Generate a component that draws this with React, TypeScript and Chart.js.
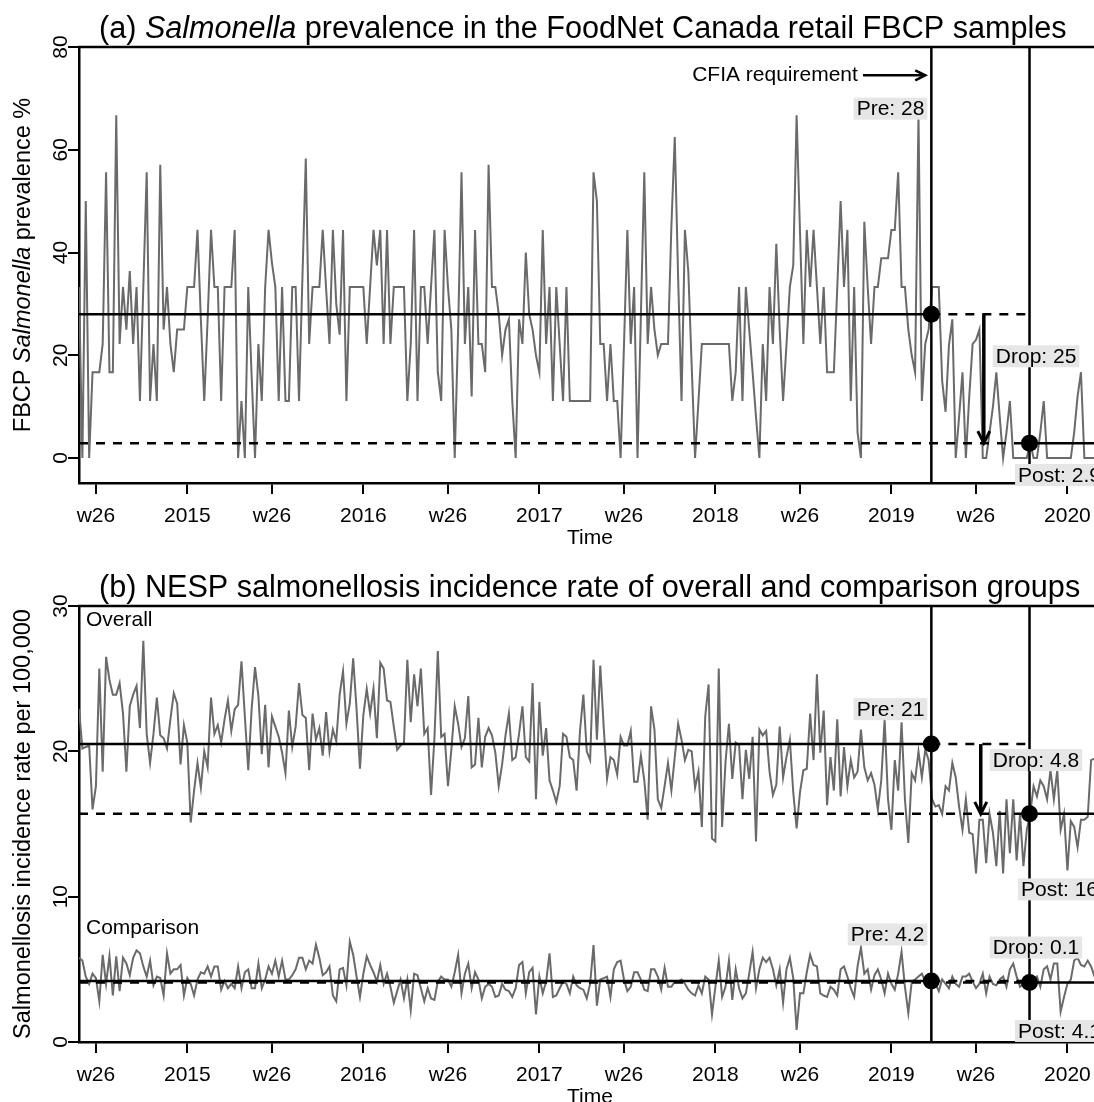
import React, { useEffect, useRef } from 'react';
import { Chart, registerables } from 'chart.js';

Chart.register(...registerables);

// ---------------- data ----------------
// x values are week indices counted from 2014 week 1 (= 0)
const START_WEEK = 20;
const tickWeeks = [25, 52, 77, 104, 129, 156, 181, 208, 233, 260, 285, 312];
const tickLabels = ['w26', '2015', 'w26', '2016', 'w26', '2017', 'w26', '2018', 'w26', '2019', 'w26', '2020'];
const cfiaWeek = 271.8;
const postWeek = 300.8;

// (a) FBCP Salmonella prevalence %, weekly
const prevalence = [
  33.3, 0, 50, 0, 16.7, 16.7, 16.7, 22.2, 55.6, 16.7,
  16.7, 66.7, 22.2, 33.3, 25, 36.4, 22.2, 33.3, 11.1, 33.3,
  55.6, 11.1, 22.2, 11.1, 57.1, 25, 33.3, 22.2, 16.7, 25,
  25, 25, 33.3, 33.3, 33.3, 44.4, 27, 11.1, 27, 44.4,
  33.3, 33.3, 11.1, 33.3, 33.3, 33.3, 44.4, 0, 11.1, 0,
  33.3, 16, 0, 22.2, 11.1, 33.3, 44.4, 38, 33.3, 11.1,
  33.3, 11.1, 11.1, 33.3, 33.3, 11.1, 35, 58.3, 22.2, 33.3,
  33.3, 33.3, 44.4, 33, 22.2, 44.4, 30, 24, 44.4, 11.1,
  33.3, 33.3, 33.3, 33.3, 33.3, 22.2, 33.3, 44.4, 37.5, 44.4,
  22.2, 44.4, 22.2, 33.3, 33.3, 33.3, 33.3, 11.1, 22.2, 44.4,
  11.1, 33.3, 33.3, 22.2, 33.3, 44.4, 16.7, 11.1, 44.4, 33.3,
  25, 0, 25, 55.6, 22.2, 33.3, 12, 44.4, 22.2, 22.2,
  16.7, 57.1, 33.3, 33.3, 28, 20, 25, 27, 11.1, 0,
  27, 22.2, 40, 28, 25, 20, 16.7, 44.4, 22.2, 33.3,
  11.1, 33.3, 22.2, 11.1, 33.3, 11.1, 11.1, 11.1, 11.1, 11.1,
  11.1, 11.1, 55.6, 50, 22.2, 22.2, 11.1, 22.2, 11.1, 11.1,
  0, 22, 44.4, 22.2, 33.3, 0, 28, 55.6, 22.2, 33.3,
  25, 20, 22.2, 22.2, 22.2, 45, 62.5, 35, 11.1, 44.4,
  36.4, 18, 0, 11, 22.2, 22.2, 22.2, 22.2, 22.2, 22.2,
  22.2, 22.2, 22.2, 11.1, 16.7, 33.3, 11.1, 33.3, 25, 16.7,
  8, 0, 22.2, 11.1, 33.3, 22.2, 41.7, 25, 11.1, 22,
  33.3, 37.5, 66.7, 44, 22.2, 44.4, 33.3, 44.4, 33.3, 22.2,
  33.3, 16.7, 16.7, 16.7, 33, 50, 33.3, 44.4, 11.1, 33.3,
  5, 0, 46, 33.3, 22.2, 33.3, 33.3, 38.9, 38.9, 38.9,
  44.4, 44.4, 55.6, 33.3, 33.3, 25, 20, 16.7, 66.7, 11.1,
  22.2, 25, 33.3, 33.3, 33.3, 15, 9, 22, 27, 0,
  8, 16.7, 0, 12, 22.2, 23, 25, 0, 0, 5,
  10, 16.7, 8, 0, 5, 11.1, 0, 0, 0, 0,
  0, 3, 0, 0, 5, 11.1, 0, 0, 0, 0,
  0, 0, 0, 0, 5, 12, 16.7, 0, 0, 0, 0, 0,
];

// (b) NESP incidence rate per 100,000, overall group
const overall = [
  22.9, 20.2, 20.3, 20.4, 16.0, 17.6, 25.7, 18.6, 26.5, 24.9,
  23.9, 23.9, 24.7, 22.6, 18.6, 23.1, 23.9, 24.5, 21.6, 27.6,
  21.2, 19.2, 21.2, 23.7, 21.1, 20.9, 20.2, 22.2, 24.0, 23.3,
  19.1, 21.8, 20.6, 15.1, 17.3, 19.2, 17.5, 20.0, 18.9, 23.7,
  21.2, 21.8, 20.6, 22.2, 23.5, 21.4, 22.9, 23.2, 26.2, 22.4,
  18.7, 22.9, 25.8, 23.8, 19.8, 23.2, 18.9, 22.4, 21.7, 21.0,
  19.9, 18.5, 22.8, 20.3, 21.7, 24.7, 22.5, 22.3, 18.7, 22.6,
  20.8, 21.6, 19.7, 22.7, 20.0, 21.5, 20.7, 23.9, 25.5, 21.9,
  23.3, 26.4, 22.9, 18.8, 22.5, 24.3, 22.6, 24.3, 20.9, 26.1,
  25.7, 23.5, 23.4, 21.7, 20.1, 20.4, 20.6, 26.3, 22.0, 25.3,
  23.1, 25.7, 21.2, 21.6, 17.0, 20.9, 26.9, 21.0, 21.2, 17.6,
  20.1, 23.1, 21.9, 20.3, 20.9, 23.8, 18.9, 19.1, 22.3, 18.9,
  21.0, 21.6, 21.1, 19.9, 17.6, 19.1, 21.1, 22.6, 19.4, 19.6,
  21.2, 23.1, 19.6, 19.3, 24.7, 16.7, 23.4, 19.7, 21.6, 18.0,
  17.3, 16.5, 17.6, 21.2, 21.0, 19.6, 19.4, 17.3, 21.4, 23.9,
  20.0, 19.4, 26.3, 20.8, 25.9, 21.7, 18.1, 19.6, 19.4, 18.4,
  21.0, 20.4, 20.4, 21.4, 17.9, 17.9, 19.7, 18.0, 15.3, 23.1,
  21.5, 16.7, 16.1, 17.6, 19.2, 17.3, 19.6, 21.9, 20.8, 19.4,
  20.1, 20.0, 17.5, 18.6, 14.8, 22.4, 24.6, 14.0, 13.8, 25.7,
  14.8, 19.3, 21.9, 18.1, 20.6, 20.4, 16.7, 20.1, 18.1, 21.0,
  13.8, 21.5, 21.1, 21.4, 18.6, 17.0, 17.7, 21.7, 18.2, 19.6,
  20.8, 17.2, 14.7, 17.2, 18.7, 18.8, 22.6, 19.4, 25.3, 19.9,
  22.8, 16.3, 19.6, 17.3, 22.2, 16.9, 20.3, 17.6, 19.4, 18.2,
  18.6, 21.5, 18.9, 18.0, 18.5, 17.7, 16.0, 18.0, 22.2, 16.7,
  14.6, 19.4, 17.3, 22.0, 16.7, 13.7, 18.5, 18.0, 20.0, 18.2,
  20.1, 19.4, 16.7, 16.2, 16.3, 15.7, 17.6, 17.3, 19.2, 18.2,
  16.2, 14.6, 16.7, 14.4, 14.3, 11.6, 15.3, 15.3, 12.3, 15.7,
  14.4, 12.1, 15.9, 11.6, 16.7, 13.0, 16.7, 12.5, 15.7, 12.1,
  14.6, 15.7, 17.6, 16.9, 18.0, 17.6, 16.7, 18.7, 16.7, 18.7,
  14.6, 15.7, 11.8, 15.2, 14.8, 13.4, 15.3, 15.3, 15.5, 19.4, 19.5,
];

// (b) NESP incidence rate per 100,000, comparison group
const comparison = [
  5.8, 5.6, 4.5, 4.0, 4.7, 4.4, 2.8, 6.0, 4.0, 5.9,
  3.2, 5.9, 3.5, 5.8, 5.4, 4.6, 5.8, 6.3, 6.1, 5.2,
  4.5, 5.6, 3.9, 4.5, 4.4, 3.2, 6.1, 4.7, 5.0, 5.0,
  5.3, 3.2, 4.4, 4.0, 3.2, 4.3, 4.8, 4.7, 5.2, 4.5,
  5.2, 5.2, 3.6, 4.2, 3.7, 4.0, 3.7, 5.2, 3.7, 4.8,
  5.0, 3.7, 3.7, 5.4, 3.7, 4.3, 5.2, 4.7, 5.6, 4.5,
  5.6, 4.3, 4.3, 4.6, 5.0, 5.8, 5.8, 5.0, 5.6, 5.4,
  6.7, 5.8, 4.6, 4.8, 5.2, 3.2, 2.8, 5.0, 5.1, 3.9,
  6.9, 6.0, 4.5, 3.1, 4.7, 5.9, 5.3, 4.8, 4.15, 5.3,
  4.0, 4.7, 3.8, 2.7, 3.5, 4.3, 3.0, 4.3, 2.2, 4.7,
  4.6, 3.7, 2.8, 3.7, 3.0, 2.9, 4.15, 4.5, 4.3, 4.3,
  3.8, 4.8, 6.0, 3.35, 4.7, 5.4, 3.7, 4.8, 4.3, 3.0,
  3.8, 4.0, 3.8, 3.1, 3.2, 4.0, 3.6, 3.5, 3.1, 3.7,
  5.3, 5.5, 3.35, 4.8, 5.1, 1.9, 4.5, 3.35, 4.15, 6.1,
  3.1, 3.2, 3.7, 4.15, 4.0, 3.35, 4.5, 3.9, 3.7, 3.6,
  3.0, 4.0, 6.67, 2.5, 4.3, 4.4, 4.5, 3.1, 5.0, 5.5,
  5.6, 4.3, 3.5, 3.8, 4.8, 4.8, 4.3, 3.6, 3.5, 5.0,
  5.0, 4.5, 3.6, 5.1, 3.8, 3.8, 4.15, 4.15, 4.3, 4.0,
  3.6, 3.35, 3.2, 3.9, 3.35, 4.5, 4.3, 1.9, 3.8, 5.6,
  3.1, 3.8, 5.6, 2.9, 5.0, 3.7, 3.0, 3.35, 4.7, 6.2,
  3.7, 5.0, 5.8, 5.5, 5.8, 5.0, 3.9, 5.0, 2.7, 5.0,
  5.8, 4.4, 0.83, 3.35, 3.35, 4.8, 6.0, 5.3, 5.2, 3.35,
  3.2, 3.1, 3.8, 3.6, 3.2, 5.0, 5.2, 4.5, 3.7, 3.1,
  5.2, 6.5, 4.7, 5.0, 3.6, 4.6, 5.0, 4.3, 3.35, 4.7,
  4.0, 3.6, 4.7, 6.2, 3.8, 2.0, 4.15, 4.3, 4.5, 4.7,
  4.15, 4.5, 4.2, 4.0, 3.5, 4.3, 4.0, 3.7, 4.5, 4.0,
  3.8, 4.5, 4.5, 4.7, 4.15, 3.7, 4.0, 4.7, 3.35, 4.5,
  4.0, 3.9, 4.3, 4.5, 3.8, 5.0, 5.4, 4.5, 3.8, 4.0,
  4.15, 4.2, 4.3, 4.5, 3.8, 5.0, 5.2, 4.3, 5.4, 5.4,
  2.1, 3.1, 4.0, 4.3, 5.6, 5.8, 5.3, 5.2, 5.6, 5.2, 4.5,
];

// model levels (pre / post) and annotation texts
const prevalenceLevels = { pre: 28, post: 2.9 };
const overallLevels = { pre: 20.5, post: 15.7 };
const comparisonLevels = { pre: 4.2, post: 4.1 };
const prevalenceTexts = { pre: 'Pre: 28', drop: 'Drop: 25', post: 'Post: 2.9' };
const overallTexts = { pre: 'Pre: 21', drop: 'Drop: 4.8', post: 'Post: 16' };
const comparisonTexts = { pre: 'Pre: 4.2', drop: 'Drop: 0.1', post: 'Post: 4.1' };
const yTicksA = [0, 20, 40, 60, 80];
const yTicksB = [0, 10, 20, 30];

// ---------------- layout / style ----------------
const FONT = '"Liberation Sans", Arial, Helvetica, sans-serif';
const CANVAS_W = 1200;
const PLOT_LEFT = 79;
const X_MIN = 20;
const X_MAX = X_MIN + (CANVAS_W - PLOT_LEFT) / 3.385;
const SERIES_COLOR = '#6a6a6a';
const DASH = [9, 8];

type Piece = [string, boolean];

const font = (size: number, italic = false) => `${italic ? 'italic ' : ''}${size}px ${FONT}`;

function drawPieces(ctx: CanvasRenderingContext2D, pieces: Piece[], size: number, x: number, y: number, center: boolean) {
  let total = 0;
  const widths = pieces.map(([t, it]) => {
    ctx.font = font(size, it);
    const w = ctx.measureText(t).width;
    total += w;
    return w;
  });
  let cx = center ? x - total / 2 : x;
  ctx.textAlign = 'left';
  pieces.forEach(([t, it], i) => {
    ctx.font = font(size, it);
    ctx.fillText(t, cx, y);
    cx += widths[i];
  });
}

function drawBoxLabel(ctx: CanvasRenderingContext2D, text: string, x: number, y: number, align: 'left' | 'right' | 'center') {
  ctx.font = font(21);
  const w = ctx.measureText(text).width;
  const padX = 3;
  const bw = w + padX * 2;
  const left = align === 'left' ? x : align === 'right' ? x - bw : x - bw / 2;
  ctx.fillStyle = '#e6e6e6';
  ctx.fillRect(left, y - 11, bw, 22);
  ctx.fillStyle = '#000';
  ctx.textAlign = 'left';
  ctx.textBaseline = 'middle';
  ctx.fillText(text, left + padX, y + 1);
}

function drawDownArrow(ctx: CanvasRenderingContext2D, x: number, y1: number, y2: number) {
  ctx.strokeStyle = '#000';
  ctx.setLineDash([]);
  ctx.lineWidth = 3.5;
  ctx.beginPath();
  ctx.moveTo(x, y1);
  ctx.lineTo(x, y2 - 2);
  ctx.stroke();
  ctx.lineWidth = 3;
  ctx.beginPath();
  ctx.moveTo(x - 6, y2 - 12);
  ctx.lineTo(x, y2);
  ctx.lineTo(x + 6, y2 - 12);
  ctx.stroke();
}

function drawRightArrow(ctx: CanvasRenderingContext2D, x1: number, x2: number, y: number) {
  ctx.strokeStyle = '#000';
  ctx.setLineDash([]);
  ctx.lineWidth = 2.5;
  ctx.beginPath();
  ctx.moveTo(x1, y);
  ctx.lineTo(x2 - 1, y);
  ctx.stroke();
  ctx.beginPath();
  ctx.moveTo(x2 - 10, y - 5);
  ctx.lineTo(x2, y);
  ctx.lineTo(x2 - 10, y + 5);
  ctx.stroke();
}

interface Group {
  values: number[];
  pre: number;
  post: number;
  texts: { pre: string; drop: string; post: string };
  arrowWeek: number | null;
  preLabelY: number;
  dropLabelY: number;
  postLabelY: number;
  name?: string;
  nameY?: number;
}

interface PanelDef {
  title: Piece[];
  yTitle: Piece[];
  yMin: number;
  yMax: number;
  yTicks: number[];
  groups: Group[];
  plotTop: number;
  plotBottom: number;
  height: number;
  titleY: number;
  cfiaNote?: { text: string; textEndWeek: number; arrowFrom: number; arrowTo: number; y: number };
}

const panelA: PanelDef = {
  title: [['(a) ', false], ['Salmonella', true], [' prevalence in the FoodNet Canada retail FBCP samples', false]],
  yTitle: [['FBCP ', false], ['Salmonella', true], [' prevalence %', false]],
  yMin: -4.86,
  yMax: 80,
  yTicks: yTicksA,
  groups: [
    {
      values: prevalence,
      pre: prevalenceLevels.pre,
      post: prevalenceLevels.post,
      texts: prevalenceTexts,
      arrowWeek: 287.3,
      preLabelY: 68,
      dropLabelY: 19.8,
      postLabelY: -3.3,
    },
  ],
  plotTop: 47,
  plotBottom: 483,
  height: 555,
  titleY: 38,
  cfiaNote: { text: 'CFIA requirement', textEndWeek: 250.1, arrowFrom: 251.6, arrowTo: 270.0, y: 74.5 },
};

const panelB: PanelDef = {
  title: [['(b) NESP salmonellosis incidence rate of overall and comparison groups', false]],
  yTitle: [['Salmonellosis incidence rate per 100,000', false]],
  yMin: 0,
  yMax: 30,
  yTicks: yTicksB,
  groups: [
    {
      values: overall,
      pre: overallLevels.pre,
      post: overallLevels.post,
      texts: overallTexts,
      arrowWeek: 286.4,
      preLabelY: 22.9,
      dropLabelY: 19.4,
      postLabelY: 10.5,
      name: 'Overall',
      nameY: 29.0,
    },
    {
      values: comparison,
      pre: comparisonLevels.pre,
      post: comparisonLevels.post,
      texts: comparisonTexts,
      arrowWeek: null,
      preLabelY: 7.4,
      dropLabelY: 6.5,
      postLabelY: 0.76,
      name: 'Comparison',
      nameY: 7.85,
    },
  ],
  plotTop: 51,
  plotBottom: 487,
  height: 547,
  titleY: 42,
};

function buildConfig(p: PanelDef): any {
  const datasets: any[] = [];
  const line = (pts: { x: number; y: number }[], dashed: boolean, order: number, width = 2.5) => ({
    type: 'line',
    data: pts,
    borderColor: '#000',
    borderWidth: width,
    borderDash: dashed ? DASH : [],
    pointRadius: 0,
    fill: false,
    order,
  });
  p.groups.forEach((g) => {
    datasets.push({
      type: 'line',
      data: g.values.map((v, i) => ({ x: START_WEEK + i, y: v })),
      borderColor: SERIES_COLOR,
      borderWidth: 2,
      pointRadius: 0,
      fill: false,
      tension: 0,
      order: 5,
    });
  });
  p.groups.forEach((g) => {
    datasets.push(line([{ x: X_MIN, y: g.pre }, { x: cfiaWeek, y: g.pre }], false, 2));
    datasets.push(line([{ x: cfiaWeek, y: g.pre }, { x: postWeek, y: g.pre }], true, 2));
    datasets.push(line([{ x: X_MIN, y: g.post }, { x: postWeek, y: g.post }], true, 2));
    datasets.push(line([{ x: postWeek, y: g.post }, { x: X_MAX, y: g.post }], false, 2));
  });
  datasets.push(line([{ x: cfiaWeek, y: p.yMin }, { x: cfiaWeek, y: p.yMax }], false, 1, 2.5));
  datasets.push(line([{ x: postWeek, y: p.yMin }, { x: postWeek, y: p.yMax }], false, 1, 2.5));
  p.groups.forEach((g) => {
    datasets.push({
      type: 'line',
      data: [{ x: cfiaWeek, y: g.pre }, { x: postWeek, y: g.post }],
      showLine: false,
      pointRadius: 8.5,
      pointBackgroundColor: '#000',
      pointBorderWidth: 0,
      order: 0,
    });
  });

  const decor = {
    id: 'decor',
    afterDatasetsDraw(chart: any) {
      const ctx: CanvasRenderingContext2D = chart.ctx;
      const xs = chart.scales.x;
      const ys = chart.scales.y;
      ctx.save();
      const cfiaX = xs.getPixelForValue(cfiaWeek);
      const postX = xs.getPixelForValue(postWeek);
      p.groups.forEach((g) => {
        if (g.arrowWeek !== null) {
          drawDownArrow(ctx, xs.getPixelForValue(g.arrowWeek), ys.getPixelForValue(g.pre), ys.getPixelForValue(g.post));
        }
      });
      p.groups.forEach((g) => {
        const arrowX = xs.getPixelForValue(g.arrowWeek !== null ? g.arrowWeek : 286.4);
        drawBoxLabel(ctx, g.texts.pre, cfiaX - 4, ys.getPixelForValue(g.preLabelY), 'right');
        drawBoxLabel(ctx, g.texts.drop, arrowX + 9, ys.getPixelForValue(g.dropLabelY), 'left');
        drawBoxLabel(ctx, g.texts.post, postX + 30, ys.getPixelForValue(g.postLabelY), 'center');
        if (g.name) {
          ctx.font = font(21);
          ctx.fillStyle = '#000';
          ctx.textAlign = 'left';
          ctx.textBaseline = 'middle';
          ctx.fillText(g.name, chart.chartArea.left + 7, ys.getPixelForValue(g.nameY!));
        }
      });
      if (p.cfiaNote) {
        const n = p.cfiaNote;
        const y = ys.getPixelForValue(n.y);
        ctx.font = font(21);
        ctx.fillStyle = '#000';
        ctx.textAlign = 'right';
        ctx.textBaseline = 'middle';
        ctx.fillText(n.text, xs.getPixelForValue(n.textEndWeek), y);
        drawRightArrow(ctx, xs.getPixelForValue(n.arrowFrom), xs.getPixelForValue(n.arrowTo), y);
      }
      ctx.restore();
    },
    afterDraw(chart: any) {
      const ctx: CanvasRenderingContext2D = chart.ctx;
      const ys = chart.scales.y;
      const area = chart.chartArea;
      ctx.save();
      // top frame line
      ctx.strokeStyle = '#000';
      ctx.lineWidth = 2.5;
      ctx.beginPath();
      ctx.moveTo(area.left - 1, area.top);
      ctx.lineTo(area.right, area.top);
      ctx.stroke();
      ctx.fillStyle = '#000';
      ctx.textBaseline = 'alphabetic';
      // title
      drawPieces(ctx, p.title, 30.6, 99, p.titleY, false);
      // rotated y tick labels
      p.yTicks.forEach((v) => {
        const y = ys.getPixelForValue(v);
        ctx.save();
        ctx.translate(67, y);
        ctx.rotate(-Math.PI / 2);
        ctx.font = font(21);
        ctx.textAlign = 'center';
        ctx.textBaseline = 'alphabetic';
        ctx.fillText(String(v), 0, 0);
        ctx.restore();
      });
      // y title
      ctx.save();
      ctx.translate(30, (area.top + area.bottom) / 2);
      ctx.rotate(-Math.PI / 2);
      ctx.textBaseline = 'alphabetic';
      drawPieces(ctx, p.yTitle, 23.5, 0, 0, true);
      ctx.restore();
      // x title
      ctx.font = font(21);
      ctx.textAlign = 'center';
      ctx.textBaseline = 'middle';
      ctx.fillText('Time', 590, area.bottom + 55);
      ctx.restore();
    },
  };

  return {
    type: 'line',
    data: { datasets },
    options: {
      responsive: false,
      maintainAspectRatio: false,
      animation: false,
      devicePixelRatio: 1,
      layout: { autoPadding: false, padding: { top: p.plotTop, left: 0, right: 0, bottom: 0 } },
      plugins: { legend: { display: false }, tooltip: { enabled: false }, title: { display: false } },
      scales: {
        x: {
          type: 'linear',
          min: X_MIN,
          max: X_MAX,
          afterBuildTicks: (s: any) => {
            s.ticks = tickWeeks.map((v) => ({ value: v }));
          },
          afterFit: (s: any) => {
            s.height = p.height - p.plotBottom;
          },
          ticks: {
            autoSkip: false,
            maxRotation: 0,
            minRotation: 0,
            color: '#000',
            padding: 10,
            font: { family: FONT, size: 21 },
            callback: (_v: any, i: number) => tickLabels[i],
          },
          grid: { display: true, drawOnChartArea: false, drawTicks: true, tickLength: 11, color: '#000', lineWidth: 2 },
          border: { display: true, color: '#000', width: 2.5 },
        },
        y: {
          type: 'linear',
          min: p.yMin,
          max: p.yMax,
          afterBuildTicks: (s: any) => {
            s.ticks = p.yTicks.map((v) => ({ value: v }));
          },
          afterFit: (s: any) => {
            s.width = PLOT_LEFT;
          },
          ticks: { display: false },
          grid: { display: true, drawOnChartArea: false, drawTicks: true, tickLength: 11, color: '#000', lineWidth: 2 },
          border: { display: true, color: '#000', width: 2.5 },
        },
      },
    },
    plugins: [decor],
  };
}

function Panel({ def, top }: { def: PanelDef; top: number }) {
  const ref = useRef<HTMLCanvasElement>(null);
  useEffect(() => {
    const chart = new Chart(ref.current!, buildConfig(def));
    return () => chart.destroy();
  }, [def]);
  return (
    <canvas
      ref={ref}
      width={CANVAS_W}
      height={def.height}
      style={{ position: 'absolute', left: 0, top, width: CANVAS_W, height: def.height, display: 'block' }}
    />
  );
}

export default function App() {
  return (
    <div
      style={{
        position: 'fixed',
        left: 0,
        top: 0,
        width: 1094,
        height: 1102,
        overflow: 'hidden',
        background: '#fff',
      }}
    >
      <Panel def={panelA} top={0} />
      <Panel def={panelB} top={555} />
    </div>
  );
}
